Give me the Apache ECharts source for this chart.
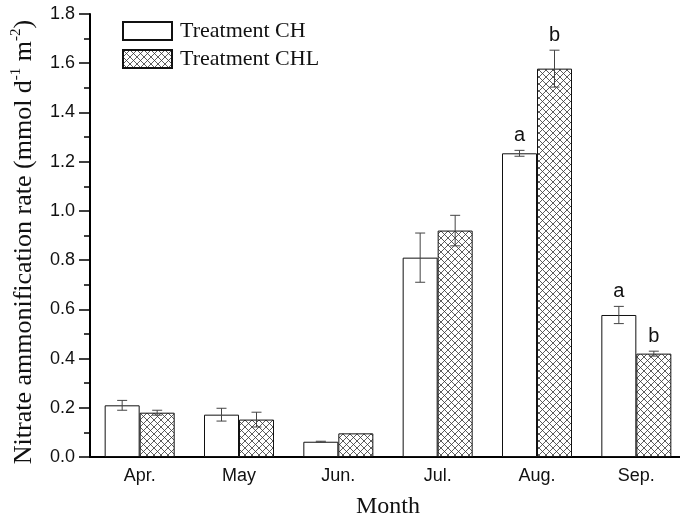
<!DOCTYPE html>
<html><head><meta charset="utf-8">
<script src="https://cdn.jsdelivr.net/npm/echarts@6/dist/echarts.min.js"></script>
<style>html,body{margin:0;padding:0;background:#fff}#c{width:680px;height:519px}</style>
</head><body><div id="c"></div>
<script>
const months = ['Apr.', 'May', 'Jun.', 'Jul.', 'Aug.', 'Sep.'];
const chValues = [0.21, 0.172, 0.062, 0.81, 1.234, 0.577];
const chErrors = [0.02, 0.026, 0.002, 0.10, 0.012, 0.035];
const chlValues = [0.18, 0.152, 0.096, 0.92, 1.578, 0.42];
const chlErrors = [0.01, 0.03, 0.0, 0.062, 0.075, 0.01];
const chLetters = ['', '', '', '', 'a', 'a'];
const chlLetters = ['', '', '', '', 'b', 'b'];
const yTicks = [0, 0.2, 0.4, 0.6, 0.8, 1.0, 1.2, 1.4, 1.6, 1.8];

const BW = 35;
function makePattern() {
  const s = 7;
  const cv = document.createElement('canvas');
  cv.width = s; cv.height = s;
  const ctx = cv.getContext('2d');
  ctx.fillStyle = '#fff'; ctx.fillRect(0, 0, s, s);
  ctx.strokeStyle = '#333'; ctx.lineWidth = 0.8;
  ctx.beginPath();
  ctx.moveTo(0, 0); ctx.lineTo(s, s);
  ctx.moveTo(0, s); ctx.lineTo(s, 0);
  ctx.stroke();
  return { image: cv, repeat: 'repeat' };
}
const hatch = makePattern();

function errSeries(vals, errs, letters, offset) {
  return {
    type: 'custom',
    z: 10,
    silent: true,
    data: vals.map((v, i) => [i, v, errs[i]]),
    renderItem: function (params, api) {
      const i = api.value(0), v = api.value(1), e = api.value(2);
      const letter = letters[params.dataIndex];
      const top = api.coord([i, v + e]);
      const bot = api.coord([i, v - e]);
      const x = top[0] + offset;
      const cap = 5;
      const children = [];
      if (e > 0) {
        children.push({ type: 'line', shape: { x1: x, y1: top[1], x2: x, y2: bot[1] }, style: { stroke: '#444', lineWidth: 1 } });
        children.push({ type: 'line', shape: { x1: x - cap, y1: top[1], x2: x + cap, y2: top[1] }, style: { stroke: '#444', lineWidth: 1 } });
        children.push({ type: 'line', shape: { x1: x - cap, y1: bot[1], x2: x + cap, y2: bot[1] }, style: { stroke: '#444', lineWidth: 1 } });
      }
      if (letter) {
        children.push({ type: 'text', style: { text: letter, x: x, y: top[1] - 5, textAlign: 'center', textVerticalAlign: 'bottom', font: '20px "Liberation Sans", Arial, sans-serif', fill: '#111' } });
      }
      return { type: 'group', children: children };
    }
  };
}

const serif = '"Liberation Serif", "Times New Roman", serif';
const chart = echarts.init(document.getElementById('c'));
chart.setOption({
  animation: false,
  backgroundColor: '#fff',
  grid: { left: 90, top: 14, width: 596, height: 443, containLabel: false, outerBoundsMode: 'none' },
  legend: {
    orient: 'vertical', left: 117, top: 15, itemWidth: 49, itemHeight: 18, itemGap: 6,
    icon: 'rect',
    textStyle: { fontFamily: serif, fontSize: 22, lineHeight: 18, color: '#111', padding: [0, 0, 0, 3] },
    data: ['Treatment CH', 'Treatment CHL']
  },
  graphic: [{
    type: 'text', x: 23, y: 242, rotation: Math.PI / 2,
    style: {
      text: '{n|Nitrate ammonification rate (mmol d}{s|-1}{n| m}{s|-2}{n|)}',
      align: 'center', verticalAlign: 'middle',
      rich: {
        n: { fontFamily: serif, fontSize: 26, fill: '#111', verticalAlign: 'bottom', lineHeight: 28 },
        s: { fontFamily: serif, fontSize: 15, fill: '#111', verticalAlign: 'top', lineHeight: 28, padding: [0, 0, 12, 0] }
      }
    }
  }],
  xAxis: {
    type: 'category', data: months,
    axisLine: { lineStyle: { color: '#000', width: 2 } },
    axisTick: { show: false },
    axisLabel: { fontFamily: '"Liberation Sans", Arial, sans-serif', fontSize: 18, color: '#111', margin: 10 },
    name: 'Month', nameLocation: 'middle', nameGap: 38,
    nameTextStyle: { fontFamily: serif, fontSize: 24, color: '#111' }
  },
  yAxis: {
    type: 'value', min: 0, max: 1.8, interval: 0.2,
    axisLine: { show: true, lineStyle: { color: '#000', width: 2 } },
    axisTick: { show: true, inside: false, length: 11, lineStyle: { color: '#000', width: 1.5 } },
    minorTick: { show: true, splitNumber: 2, length: 6, lineStyle: { color: '#000', width: 1.5 } },
    splitLine: { show: false },
    axisLabel: { fontFamily: '"Liberation Sans", Arial, sans-serif', fontSize: 18, color: '#111', margin: 15,
      formatter: v => v.toFixed(1) }
  },
  series: [
    { name: 'Treatment CH', type: 'bar', data: chValues, barWidth: BW, barGap: '0%',
      itemStyle: { color: '#fff', borderColor: '#111', borderWidth: 1 } },
    { name: 'Treatment CHL', type: 'bar', data: chlValues, barWidth: BW, barGap: '0%',
      itemStyle: { color: hatch, borderColor: '#111', borderWidth: 1 } },
    errSeries(chValues, chErrors, chLetters, -BW / 2),
    errSeries(chlValues, chlErrors, chlLetters, BW / 2)
  ]
});
</script></body></html>
